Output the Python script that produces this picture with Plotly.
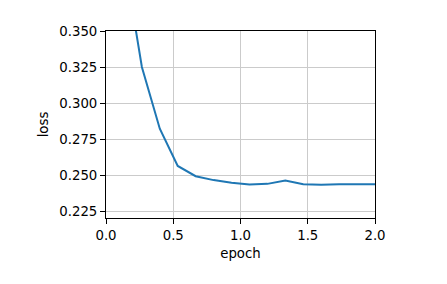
import plotly.graph_objects as go

epoch = [2/15, 4/15, 6/15, 8/15, 10/15, 12/15, 14/15, 16/15, 18/15, 20/15,
         22/15, 24/15, 26/15, 28/15, 30/15]
loss = [0.401, 0.325, 0.2822, 0.2563, 0.2492, 0.2465, 0.2447, 0.2434, 0.2439, 0.2463,
        0.2437, 0.2433, 0.2436, 0.2435, 0.2436]

x_ticks = [0.0, 0.5, 1.0, 1.5, 2.0]
x_tick_labels = ["0.0", "0.5", "1.0", "1.5", "2.0"]
y_ticks = [0.225, 0.250, 0.275, 0.300, 0.325, 0.350]
y_tick_labels = ["0.225", "0.250", "0.275", "0.300", "0.325", "0.350"]

fig = go.Figure()
fig.add_trace(go.Scatter(x=epoch, y=loss, mode="lines",
                         line=dict(color="#1f77b4", width=2), showlegend=False))

font = dict(family="DejaVu Sans", size=13.3, color="black")
axis_common = dict(showline=True, linecolor="black", linewidth=1, mirror=True,
                   ticks="outside", ticklen=5, tickwidth=1, tickcolor="black",
                   showgrid=True, gridcolor="#cbcbcb", gridwidth=1, zeroline=False,
                   tickfont=font)

fig.update_layout(
    width=447, height=284,
    margin=dict(l=106, r=72, t=31, b=66),
    paper_bgcolor="white", plot_bgcolor="white",
    font=font,
    xaxis=dict(range=[0, 2.0], tickvals=x_ticks, ticktext=x_tick_labels,
               title=dict(text="epoch", font=font, standoff=6), **axis_common),
    yaxis=dict(range=[0.2202, 0.35], tickvals=y_ticks, ticktext=y_tick_labels,
               title=dict(text="loss", font=font, standoff=7), **axis_common),
)

fig.write_html("out.html")
